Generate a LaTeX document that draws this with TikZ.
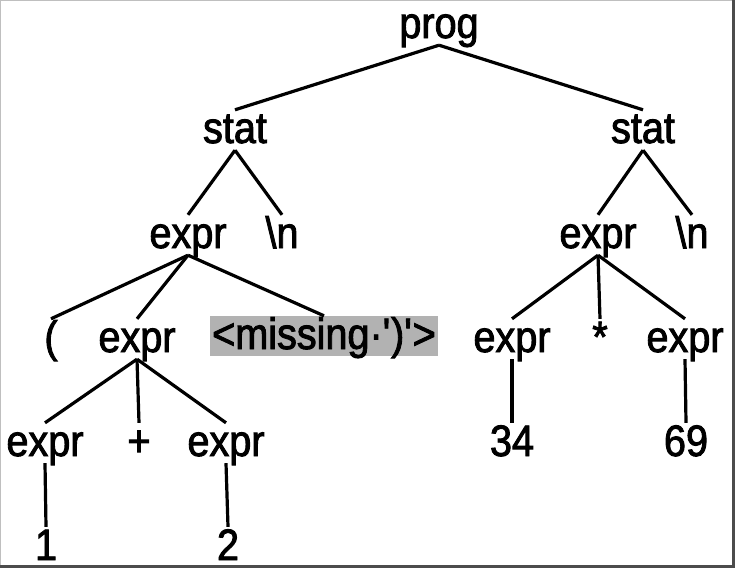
\documentclass[tikz,border=0pt]{standalone}
\usepackage{fontspec}
\setmainfont[FakeStretch=0.9,FakeBold=2]{Liberation Sans}
\begin{document}
\begin{tikzpicture}[x=1pt,y=-1pt,
    every node/.style={font=\fontsize{44}{50}\selectfont,anchor=base,
      text height=31pt,text depth=5pt,inner xsep=2pt,inner ysep=2pt},
    missing/.style={fill=black!30}]
      \useasboundingbox (0,0) rectangle (735,568);
      \draw[black!25,line width=1pt] (0.5,0.5) rectangle (733,566);
      \fill[black!70] (732,0) rectangle (735,568);
      \fill[black!70] (0,565) rectangle (735,568);
      \draw
        (439,38) node (prog){prog}
        (235,143) node (stat1){stat}
        (643,143) node (stat2){stat}
        (188,248) node (expr1){expr}
        (282,248) node (nl1){\textbackslash n}
        (598,248) node (expr2){expr}
        (692,248) node (nl2){\textbackslash n}
        (51,352) node (lpar){(}
        (137,352) node (expr3){expr}
        (324,349) node[missing] (miss){<missing·\textquotesingle)\textquotesingle>}
        (512,352) node (expr4){expr}
        (600,352) node (times){*}
        (685,352) node (expr5){expr}
        (45,456) node (expr6){expr}
        (139,456) node (plus){+}
        (226,456) node (expr7){expr}
        (512,456) node (n34){34}
        (686,456) node (n69){69}
        (46,560) node (n1){1}
        (228,560) node (n2){2};
      \begin{scope}[line width=3.2pt]
        \draw (prog.south) to (stat1.north);
        \draw (prog.south) to (stat2.north);
        \draw (stat1.south) to (expr1.north);
        \draw (stat1.south) to (nl1.north);
        \draw (stat2.south) to (expr2.north);
        \draw (stat2.south) to (nl2.north);
        \draw (expr1.south) to (lpar.north);
        \draw (expr1.south) to (expr3.north);
        \draw (expr1.south) to (miss.north);
        \draw (expr2.south) to (expr4.north);
        \draw (expr2.south) to (times.north);
        \draw (expr2.south) to (expr5.north);
        \draw (expr3.south) to (expr6.north);
        \draw (expr3.south) to (plus.north);
        \draw (expr3.south) to (expr7.north);
        \draw (expr4.south) to (n34.north);
        \draw (expr5.south) to (n69.north);
        \draw (expr6.south) to (n1.north);
        \draw (expr7.south) to (n2.north);
      \end{scope}
    \end{tikzpicture}
\end{document}
